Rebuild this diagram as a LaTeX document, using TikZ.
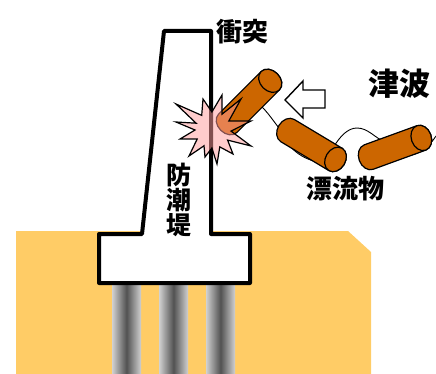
\documentclass[tikz,border=0pt]{standalone}
\usepackage{fontspec}
\newfontfamily\jp{Noto Sans CJK JP}
\definecolor{ground}{HTML}{FFCC66}
\definecolor{logorange}{HTML}{CC6600}
\definecolor{blastpink}{RGB}{255,156,156}
\tikzset{
  wallline/.style={draw=black, line width=4pt, line join=round, fill=white},
  pile/.style={left color=black!18, right color=black!18, middle color=black!68},
  logbody/.style={fill=logorange, draw=black, line width=1.2pt},
  rope/.style={draw=black, line width=0.9pt},
  blast/.style={fill=blastpink, fill opacity=0.51, draw=black, line width=1.2pt, line join=miter},
  waveArrow/.style={fill=white, draw=black, line width=1.4pt, line join=miter},
  label/.style={font=\jp\bfseries\fontsize{#1}{#1}\selectfont, inner sep=0pt}
}
% one drifting log: centre, direction (deg), half distance between end centres
\newcommand{\driftlog}[3]{%
  \begin{scope}[shift={#1}, rotate=#2, x=1pt, y=1pt]
    \path[logbody] (-#3,-13) -- (#3,-13)
      arc[start angle=-90, end angle=90, x radius=10, y radius=13]
      -- (-#3,13)
      arc[start angle=90, end angle=270, x radius=10, y radius=13] -- cycle;
    \path[logbody] (#3,0) ellipse[x radius=10, y radius=13];
  \end{scope}}
\begin{document}
\begin{tikzpicture}[x=1pt, y=-1pt]
  \useasboundingbox (0,0) rectangle (436,374);

  % ground
  \fill[ground] (16,231) -- (348,231) -- (371,252) -- (371,374) -- (16,374) -- cycle;

  % piles
  \foreach \px in {112, 159, 206}
    \path[pile] (\px,278) rectangle ++(29,96);

  % seawall with footing
  \path[wallline] (164,31) -- (211,31) -- (211,234) -- (250,234) -- (250,283)
    -- (99,283) -- (99,234) -- (142,234) -- cycle;

  % ropes between the logs
  \coordinate (rA1) at (258,103);
  \coordinate (rA2) at (282,132);
  \coordinate (rA3) at (325,163);
  \draw[rope] (rA1) .. controls (268,112) and (274,122) .. (rA2)
    .. controls (286,145) and (300,161) .. (rA3);
  \coordinate (rB1) at (333,148);
  \coordinate (rB2) at (357,128);
  \coordinate (rB3) at (385,142);
  \coordinate (rB4) at (436,136);
  \draw[rope] (rB1) .. controls (340,136) and (348,128) .. (rB2)
    .. controls (368,128) and (375,138) .. (rB3)
    .. controls (395,161) and (420,161) .. (rB4);

  % drifting logs
  \driftlog{(249,102)}{45}{30}
  \driftlog{(311.5,145)}{-31}{28}
  \driftlog{(395,147.5)}{20}{28}

  % impact burst
  \path[blast] (176,104) -- (201.7,115.4) -- (203,99) -- (211.9,112) -- (222,95)
    -- (222,114.2) -- (241,99) -- (228.8,121) -- (251,121) -- (231,131.1)
    -- (251,146) -- (227.6,140.1) -- (233,154) -- (219.8,146.9) -- (217,164)
    -- (211.9,148) -- (205,157) -- (204,145.8) -- (189,156) -- (197.2,139)
    -- (180,139) -- (195,130) -- (176,122) -- (196.1,123.2) -- cycle;

  % tsunami arrow
  \path[waveArrow] (285,100) -- (303,81) -- (303,90) -- (325,90) -- (325,108)
    -- (303,108) -- (303,118) -- cycle;

  % labels
  \node[label=26] (impact) at (242,32) {衝突};
  \node[label=31] (tsunami) at (399,84) {津波};
  \node[label=26] (debris) at (345,189) {漂流物};
  \node[label=25, align=center] (seawall) at (179,200) {防\\潮\\堤};
\end{tikzpicture}
\end{document}
